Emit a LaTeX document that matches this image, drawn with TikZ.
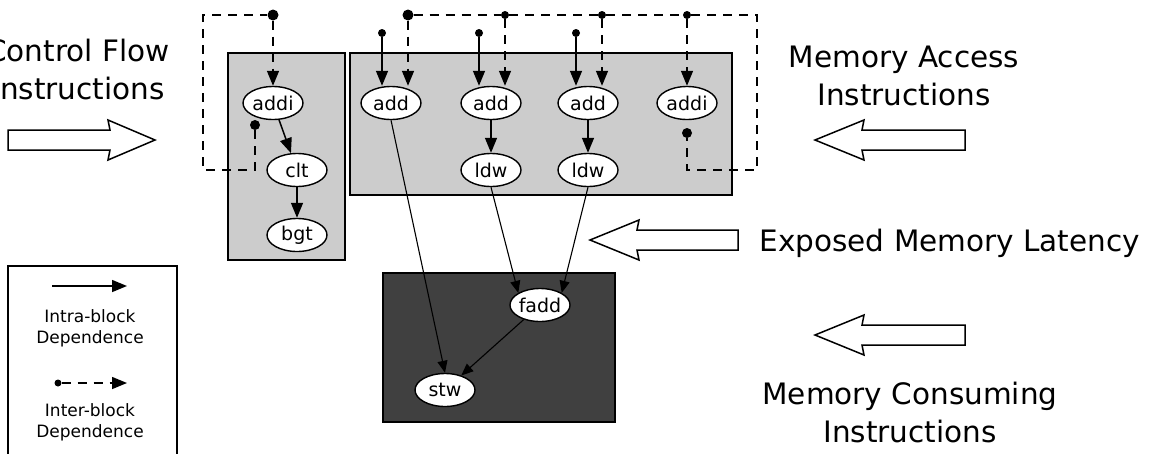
\documentclass[tikz,border=0pt]{standalone}
\usepackage{fontspec}
\setmainfont{DejaVu Sans}
\usetikzlibrary{arrows.meta,shapes.geometric}
\begin{document}
\begin{tikzpicture}[x=1pt,y=-1pt,
 op/.style={ellipse,draw,line width=1.4pt,fill=white,inner sep=0pt,minimum width=60pt,minimum height=33pt,font=\fontsize{19}{19}\selectfont},
 box/.style={draw,line width=2.2pt},
 dep/.style={-{Triangle[length=15pt,width=12pt]},line width=1.5pt},
 idep/.style={dep,dash pattern=on 9pt off 7pt},
 dot/.style={circle,fill,inner sep=0pt,minimum size=8pt},
 barrow/.style={draw,line width=1.5pt,fill=white},
 lbl/.style={font=\fontsize{29.5}{38}\selectfont,align=center},
 leg/.style={font=\fontsize{17}{21}\selectfont,align=center}]
\useasboundingbox (0,0) rectangle (1150,453);
\fill[white] (0,0) rectangle (1150,453);
\draw[box,fill=black!20] (228,53) rectangle (345,260);
\draw[box,fill=black!20] (350,53) rectangle (732,195);
\draw[box,fill=black!75] (383,273) rectangle (615,422);
% nodes
\node[op] (a1) at (273,103) {addi};
\node[op] (c) at (297,170) {clt};
\node[op] (b) at (297,235) {bgt};
\node[op] (d1) at (391,103) {add};
\node[op] (d2) at (491,103) {add};
\node[op] (d3) at (588,103) {add};
\node[op] (a2) at (687,103) {addi};
\node[op] (l1) at (491,170) {ldw};
\node[op] (l2) at (588,170) {ldw};
\node[op] (f) at (540,305) {fadd};
\node[op] (s) at (445,390) {stw};
% intra deps
\draw[dep] (a1) -- (c);
\draw[dep] (c) -- (b);
\draw[dep] (d2) -- (l1);
\draw[dep] (d3) -- (l2);
\draw[-{Triangle[length=12pt,width=10pt]},line width=1.1pt] (l1.south) -- (f.north west);
\draw[-{Triangle[length=12pt,width=10pt]},line width=1.1pt] (l2.south) -- (f.north east);
\draw[-{Triangle[length=12pt,width=10pt]},line width=1.1pt] (d1.south) -- (s.north);
\draw[-{Triangle[length=12pt,width=10pt]},line width=1.1pt] (f) -- (s);
% solid inputs
\node[dot] (p1) at (382,33) {};
\node[dot] (p2) at (479,33) {};
\node[dot] (p3) at (576,33) {};
\draw[dep] (p1) -- (p1 |- d1.north);
\draw[dep] (p2) -- (p2 |- d2.north);
\draw[dep] (p3) -- (p3 |- d3.north);
% left loop
\node[dot,minimum size=11pt] (t1) at (273,15) {};
\node[dot,minimum size=10pt] (u1) at (255,125) {};
\coordinate (lc1) at (203,15);
\coordinate (lc2) at (203,170);
\coordinate (lc3) at (255,170);
\draw[idep] (t1) -- (a1.north);
\draw[dash pattern=on 9pt off 7pt,line width=1.5pt] (u1) -- (lc3) -- (lc2) -- (lc1) -- (t1);
% right loop
\node[dot,minimum size=11pt] (t2) at (408,15) {};
\node[dot] (t3) at (505,15) {};
\node[dot] (t4) at (602,15) {};
\node[dot] (t5) at (687,15) {};
\node[dot,minimum size=10pt] (u2) at (687,133) {};
\coordinate (rc1) at (757,15);
\coordinate (rc2) at (757,170);
\coordinate (rc3) at (687,170);
\draw[dash pattern=on 9pt off 7pt,line width=1.5pt] (t2) -- (t3) -- (t4) -- (t5) -- (rc1) -- (rc2) -- (rc3) -- (u2);
\draw[idep] (t2) -- (t2 |- d1.north);
\draw[idep] (t3) -- (t3 |- d2.north);
\draw[idep] (t4) -- (t4 |- d3.north);
\draw[idep] (t5) -- (a2.north);
% block arrows
\draw[barrow] (8,130) -- (110,130) -- (108,120) -- (155,140) -- (108,160) -- (110,150) -- (8,150) -- cycle;
\draw[barrow] (965,130) -- (862,130) -- (864,120) -- (815,140) -- (864,160) -- (862,150) -- (965,150) -- cycle;
\draw[barrow] (738,230) -- (637,230) -- (639,220) -- (590,240) -- (639,260) -- (637,250) -- (738,250) -- cycle;
\draw[barrow] (965,325) -- (862,325) -- (864,315) -- (815,335) -- (864,355) -- (862,345) -- (965,345) -- cycle;
% labels
\node[lbl] (t_cf) at (78,69) {Control Flow\\Instructions};
\node[lbl] (t_ma) at (904,76) {Memory Access\\Instructions};
\node[lbl,anchor=west] (t_ex) at (756,243) {Exposed Memory Latency};
\node[lbl] (t_mc) at (910,412) {Memory Consuming\\Instructions};
% legend
\draw[line width=1.6pt] (8,266) rectangle (177,460);
\coordinate (la) at (52,286);
\coordinate (lb) at (127,286);
\draw[dep] (la) -- (lb);
\node[leg] (li) at (90,328) {Intra-block\\Dependence};
\node[dot,minimum size=7pt] (ld) at (58,383) {};
\coordinate (le) at (127,383);
\draw[idep] (ld) -- (le);
\node[leg] (lj) at (90,422) {Inter-block\\Dependence};
\end{tikzpicture}
\end{document}
